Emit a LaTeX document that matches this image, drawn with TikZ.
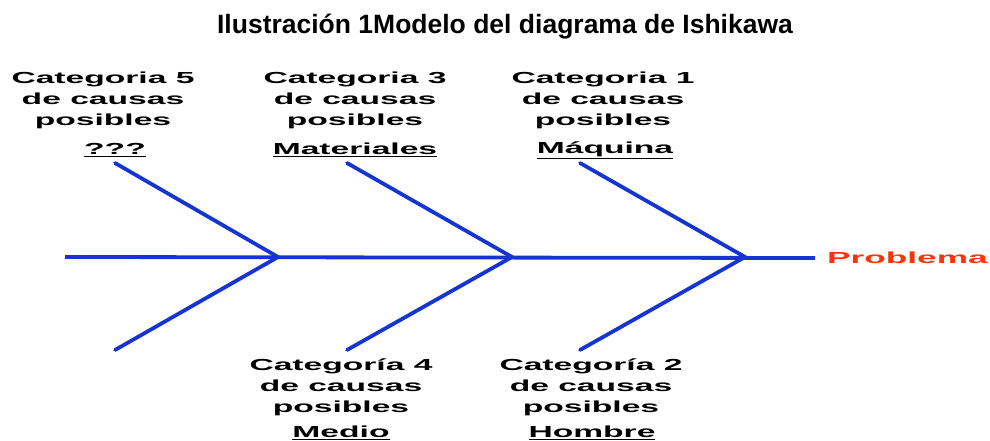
\documentclass[tikz,border=0pt]{standalone}
\usepackage{fontspec}
\setmainfont{Liberation Sans}
\newfontfamily\catfont[FakeStretch=2.1]{Liberation Sans}
\newfontfamily\probfont[FakeStretch=2.2]{Liberation Sans}
\usetikzlibrary{positioning}

\definecolor{bone}{RGB}{22,52,210}
\definecolor{probred}{RGB}{255,50,10}

\tikzset{
  bonestyle/.style={draw=bone,line width=3.8pt,line cap=round},
  catlabel/.style={align=center,inner sep=0pt,font=\catfont\fontsize{16}{21}\selectfont\bfseries},
  catname/.style={inner sep=0pt,font=\catfont\fontsize{16}{21}\selectfont\bfseries}
}

\begin{document}
\begin{tikzpicture}[x=1pt,y=-1pt]
\useasboundingbox (0,0) rectangle (990,441);

\node [font=\fontsize{26.5}{30}\selectfont\bfseries] (title) at (505,27) {Ilustración 1Modelo del diagrama de Ishikawa};

\coordinate (tail)  at ( 65,257);
\coordinate (head5) at (278,257);
\coordinate (head3) at (512,257);
\coordinate (head1) at (745,257);

\coordinate (top5) at (115,163);
\coordinate (top3) at (347,163);
\coordinate (top1) at (580,163);
\coordinate (bot5) at (115,350);
\coordinate (bot4) at (347,350);
\coordinate (bot2) at (580,350);

\node [inner sep=0pt,anchor=west,text=probred,font=\probfont\fontsize{16}{21}\selectfont\bfseries] (problema) at (827,258) {Problema};

\node [catlabel] (cat5) at (103,100) {Categoria 5\\ de causas\\ posibles};
\node [catname]  (name5) at (115,150) {\underline{???}};
\node [catlabel] (cat3) at (355,100) {Categoria 3\\ de causas\\ posibles};
\node [catname]  (name3) at (355,150) {\underline{Materiales}};
\node [catlabel] (cat1) at (603,100) {Categoria 1\\ de causas\\ posibles};
\node [catname]  (name1) at (605,150) {\underline{Máquina}};

\node [catlabel] (cat4) at (341,387) {Categoría 4\\ de causas\\ posibles};
\node [catname]  (name4) at (341,433) {\underline{Medio}};
\node [catlabel] (cat2) at (591,387) {Categoría 2\\ de causas\\ posibles};
\node [catname]  (name2) at (592,433) {\underline{Hombre}};

\draw [bonestyle,line cap=butt] (tail) -- ([xshift=-12pt]problema.west);
\draw [bonestyle] (top5) -- (head5) -- (bot5);
\draw [bonestyle] (top3) -- (head3) -- (bot4);
\draw [bonestyle] (top1) -- (head1) -- (bot2);
\end{tikzpicture}
\end{document}
